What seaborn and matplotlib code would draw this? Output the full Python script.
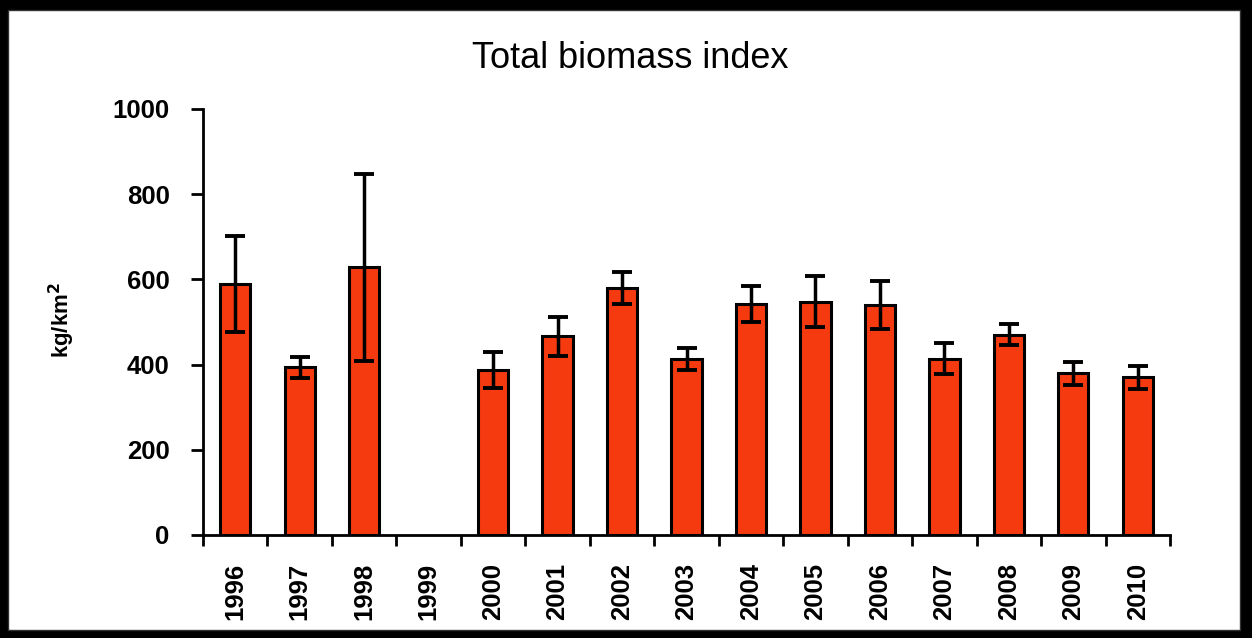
import matplotlib.pyplot as plt
import matplotlib.patches as mpatches
import numpy as np
import pandas as pd
import seaborn as sns

years = ['1996', '1997', '1998', '1999', '2000', '2001', '2002', '2003',
         '2004', '2005', '2006', '2007', '2008', '2009', '2010']
biomass = [590, 394, 628, np.nan, 388, 466, 580, 414,
           542, 548, 540, 414, 470, 380, 370]
err = [113, 25, 220, np.nan, 42, 45, 38, 26,
       43, 60, 56, 36, 25, 27, 27]

data = pd.DataFrame({'year': years, 'biomass': biomass, 'err': err})

sns.set_style('ticks')
plt.rcParams['font.family'] = ['Liberation Sans', 'DejaVu Sans']
plt.rcParams['text.color'] = 'black'
plt.rcParams['axes.labelcolor'] = 'black'
plt.rcParams['xtick.color'] = 'black'
plt.rcParams['ytick.color'] = 'black'
plt.rcParams['axes.edgecolor'] = 'black'

fig = plt.figure(figsize=(12.52, 6.38), dpi=100, facecolor='black')
# white scanned page
fig.patches.append(mpatches.Rectangle((8 / 1252, 8 / 638), 1232 / 1252, 620 / 638,
                                      transform=fig.transFigure, facecolor='white',
                                      edgecolor='#333333', linewidth=1, zorder=-10))
ax = fig.add_axes([203 / 1252, 1 - 535 / 638, (1170 - 203) / 1252, (535 - 109) / 638])
ax.set_facecolor('white')

sns.barplot(data=data, x='year', y='biomass', color='#F63A10', width=0.47,
            edgecolor='black', linewidth=2.2, saturation=1, ax=ax)
ax.errorbar(data['year'], data['biomass'], yerr=data['err'], fmt='none',
            ecolor='black', elinewidth=2.5, capsize=7, capthick=2.8, zorder=5)

ax.set_ylim(0, 1000)
ax.set_xlim(-0.5, len(years) - 0.5)
ax.set_yticks([0, 200, 400, 600, 800, 1000])
ax.set_xticks(np.arange(len(years) + 1) - 0.5, minor=True)
ax.tick_params(axis='x', which='major', length=0, pad=20, rotation=90)
ax.tick_params(axis='x', which='minor', length=8, width=2, direction='out')
ax.tick_params(axis='y', length=9, width=2, pad=15)
for lab in ax.get_xticklabels() + ax.get_yticklabels():
    lab.set_fontsize(18.5)
    lab.set_fontweight('bold')

ax.set_xlabel('')
ax.set_ylabel(r'kg/km$^\mathbf{2}$', fontsize=16, fontweight='bold')
ax.yaxis.set_label_coords(-0.13, 0.505)
fig.text(630 / 1252, 1 - 58 / 638, 'Total biomass index', fontsize=26,
         ha='center', va='center')
sns.despine(ax=ax)
for s in ['left', 'bottom']:
    ax.spines[s].set_linewidth(2)

fig.savefig('out.png', dpi=100, facecolor=fig.get_facecolor())
